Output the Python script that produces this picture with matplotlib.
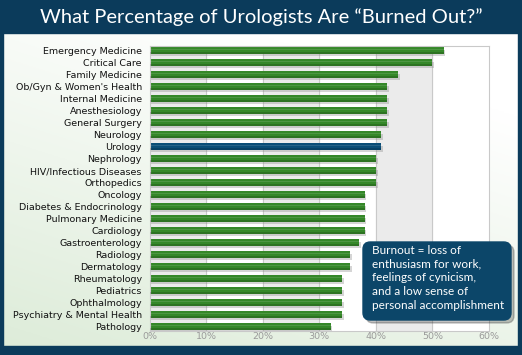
import numpy as np
import matplotlib
matplotlib.use("Agg")
import matplotlib.pyplot as plt
from matplotlib.patches import FancyBboxPatch, Rectangle
#------------------------------------------------------------------------------
# data
specialties = ["Emergency Medicine", "Critical Care", "Family Medicine",
               "Ob/Gyn & Women's Health", "Internal Medicine", "Anesthesiology",
               "General Surgery", "Neurology", "Urology", "Nephrology",
               "HIV/Infectious Diseases", "Orthopedics", "Oncology",
               "Diabetes & Endocrinology", "Pulmonary Medicine", "Cardiology",
               "Gastroenterology", "Radiology", "Dermatology", "Rheumatology",
               "Pediatrics", "Ophthalmology", "Psychiatry & Mental Health",
               "Pathology"]
burnout = [52, 50, 44, 42, 42, 42, 42, 41, 41, 40, 40, 40,
           38, 38, 38, 38, 37, 35.5, 35.5, 34, 34, 34, 34, 32]
highlight = "Urology"
xticks = [0, 10, 20, 30, 40, 50, 60]
xticklabels = ["0%", "10%", "20%", "30%", "40%", "50%", "60%"]
title = "What Percentage of Urologists Are \u201cBurned Out?\u201d"
note = ["Burnout = loss of", "enthusiasm for work,", "feelings of cynicism,",
        "and a low sense of", "personal accomplishment"]
#------------------------------------------------------------------------------
W, H = 522., 355.
navy = '#0b3b5b'
green = '#358829'
blue = '#0b4e77'
fx = lambda px: px/W
fy = lambda py: 1 - py/H

fig = plt.figure(figsize=(5.22, 3.55), dpi=100)
#------------------------------------------------------------------------------
# background panel: white top right -> pale green bottom left
bg = fig.add_axes([0, 0, 1, 1])
bg.axis('off')
yy, xx = np.mgrid[0:1:200j, 0:1:300j]
t = np.clip(0.75*yy + 0.35*(1 - xx) - 0.25, 0, 1)
top = np.array([1., 1., 1.])
bot = np.array([0.84, 0.91, 0.82])
img = top*(1 - t[..., None]) + bot*t[..., None]
bg.imshow(img, extent=[0, 1, 0, 1], aspect='auto', origin='upper')
bg.set_xlim(0, 1)
bg.set_ylim(0, 1)
# dark frame
bg.add_patch(Rectangle((0, fy(33)), 1, 33/H, color=navy))
bg.add_patch(Rectangle((0, 0), 1, 9/H, color=navy))
bg.add_patch(Rectangle((0, 0), 3/W, 1, color=navy))
bg.add_patch(Rectangle((1 - 4/W, 0), 4/W, 1, color=navy))
fig.text(0.5, fy(17), title, color='white', fontsize=14.5, family='Lato',
         ha='center', va='center')
#------------------------------------------------------------------------------
# bar chart
ax = fig.add_axes([fx(149.5), fy(331), fx(489) - fx(149.5), (331 - 46)/H])
ax.set_facecolor('white')
n = len(specialties)
y = np.arange(n)
for k in range(0, 60, 20):
    ax.axvspan(k, k + 10, color='#ebebeb', zorder=0)
for k in xticks[1:-1]:
    ax.axvline(k, color='#c9c9c9', lw=0.8, zorder=0.5)
colors = [blue if s == highlight else green for s in specialties]
ax.barh(y + 0.18, np.array(burnout) + 0.3, height=0.55, color='#888888',
        alpha=0.35, zorder=1)
ax.barh(y, burnout, height=0.6, color=colors, zorder=2)
ax.barh(y - 0.1, burnout, height=0.14, color='white', alpha=0.12, zorder=3)
ax.barh(y + 0.22, burnout, height=0.16, color='black', alpha=0.15, zorder=3)
ax.set_xlim(0, 60)
ax.set_ylim(n - 0.64, -0.39)
ax.set_yticks(y)
ax.set_yticklabels(specialties, fontsize=6.8, color='#111111')
ax.set_xticks(xticks)
ax.set_xticklabels(xticklabels, fontsize=6.8, color='#9a9a9a')
ax.tick_params(axis='y', length=0, pad=5.5)
ax.tick_params(axis='x', length=0, pad=0.5)
for sp in ax.spines.values():
    sp.set_color('#c9c9c9')
    sp.set_linewidth(0.8)
#------------------------------------------------------------------------------
# note box
bx, by, bw, bh = fx(363), fy(320), (511 - 363)/W, (320 - 242)/H
fig.patches.append(FancyBboxPatch((bx + 3/W, by - 3/H), bw, bh,
                                  boxstyle='round,pad=0,rounding_size=0.014',
                                  transform=fig.transFigure, color='#333333',
                                  alpha=0.3, mutation_aspect=W/H, zorder=5))
fig.patches.append(FancyBboxPatch((bx, by), bw, bh,
                                  boxstyle='round,pad=0,rounding_size=0.014',
                                  transform=fig.transFigure, color='#0c4669',
                                  mutation_aspect=W/H, zorder=6))
fig.text(fx(372), fy(245), "\n".join(note), color='white', fontsize=8.5,
         family='Lato', ha='left', va='top', linespacing=1.3, zorder=7)

fig.savefig('out.png', dpi=100)
